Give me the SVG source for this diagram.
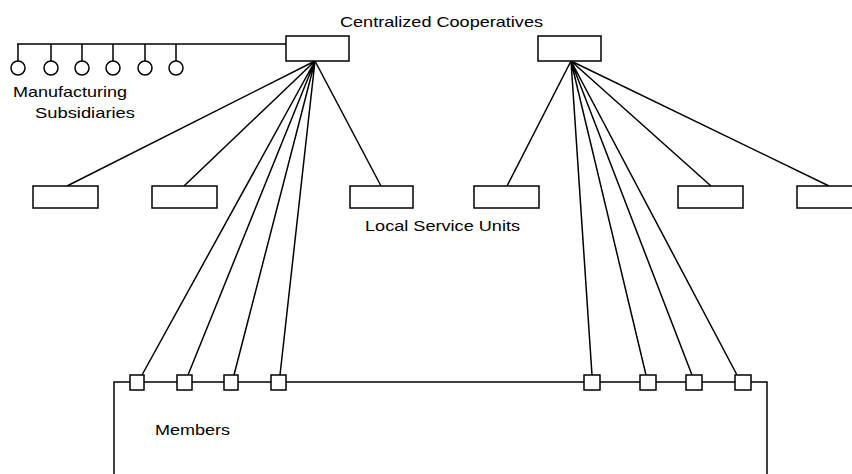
<svg xmlns="http://www.w3.org/2000/svg" width="852" height="474" viewBox="0 0 852 474">
  <style>
    .box { fill: #fff; stroke: #000; stroke-width: 1.5; }
    .wire { fill: none; stroke: #000; stroke-width: 1.5; }
    .lbl { font-family: "Liberation Sans", Arial, sans-serif; font-size: 15px; fill: #000; }
  </style>
  <rect width="852" height="474" fill="#fff"/>

  <!-- connectors -->
  <g id="connectors" class="wire">
    <!-- subsidiary bus -->
    <path d="M17,44 H286"/>
    <path d="M18,44 V61 M51,44 V61 M82,44 V61 M113,44 V61 M145,44 V61 M176,44 V61"/>
    <!-- left cooperative fan-out -->
    <path d="M315,61 L67,186 M315,61 L184,186 M315,61 L381,186"/>
    <path d="M315,61 L142,375 M315,61 L188,375 M315,61 L234,375 M315,61 L280,375"/>
    <!-- right cooperative fan-out -->
    <path d="M571,61 L507,186 M571,61 L711,186 M571,61 L829,186"/>
    <path d="M571,61 L592,375 M571,61 L646,375 M571,61 L692,375 M571,61 L737,375"/>
  </g>

  <!-- centralized cooperatives -->
  <g id="coop-left"><rect class="box" x="286" y="36" width="63" height="25"/></g>
  <g id="coop-right"><rect class="box" x="538" y="36" width="63" height="25"/></g>
  <text class="lbl" x="340" y="27" textLength="203" lengthAdjust="spacingAndGlyphs">Centralized Cooperatives</text>

  <!-- manufacturing subsidiaries -->
  <g id="subsidiaries" class="box">
    <circle cx="18" cy="68" r="7"/>
    <circle cx="51" cy="68" r="7"/>
    <circle cx="82" cy="68" r="7"/>
    <circle cx="113" cy="68" r="7"/>
    <circle cx="145" cy="68" r="7"/>
    <circle cx="176" cy="68" r="7"/>
  </g>
  <text class="lbl" x="13" y="97" textLength="114" lengthAdjust="spacingAndGlyphs">Manufacturing</text>
  <text class="lbl" x="35" y="118" textLength="100" lengthAdjust="spacingAndGlyphs">Subsidiaries</text>

  <!-- local service units -->
  <g id="unit-1"><rect class="box" x="33" y="186" width="65" height="22"/></g>
  <g id="unit-2"><rect class="box" x="152" y="186" width="65" height="22"/></g>
  <g id="unit-3"><rect class="box" x="350" y="186" width="63" height="22"/></g>
  <g id="unit-4"><rect class="box" x="474" y="186" width="65" height="22"/></g>
  <g id="unit-5"><rect class="box" x="678" y="186" width="65" height="22"/></g>
  <g id="unit-6"><rect class="box" x="797" y="186" width="65" height="22"/></g>
  <text class="lbl" x="365" y="231" textLength="155" lengthAdjust="spacingAndGlyphs">Local Service Units</text>

  <!-- members -->
  <g id="members">
    <path class="wire" d="M114,480 V382 H767 V480"/>
    <rect class="box" x="130" y="375" width="14" height="15"/>
    <rect class="box" x="177" y="375" width="15" height="15"/>
    <rect class="box" x="224" y="375" width="14" height="15"/>
    <rect class="box" x="271" y="375" width="15" height="15"/>
    <rect class="box" x="584" y="375" width="16" height="15"/>
    <rect class="box" x="640" y="375" width="16" height="15"/>
    <rect class="box" x="686" y="375" width="16" height="15"/>
    <rect class="box" x="735" y="375" width="16" height="15"/>
    <text class="lbl" x="155" y="435" textLength="75" lengthAdjust="spacingAndGlyphs">Members</text>
  </g>
</svg>
